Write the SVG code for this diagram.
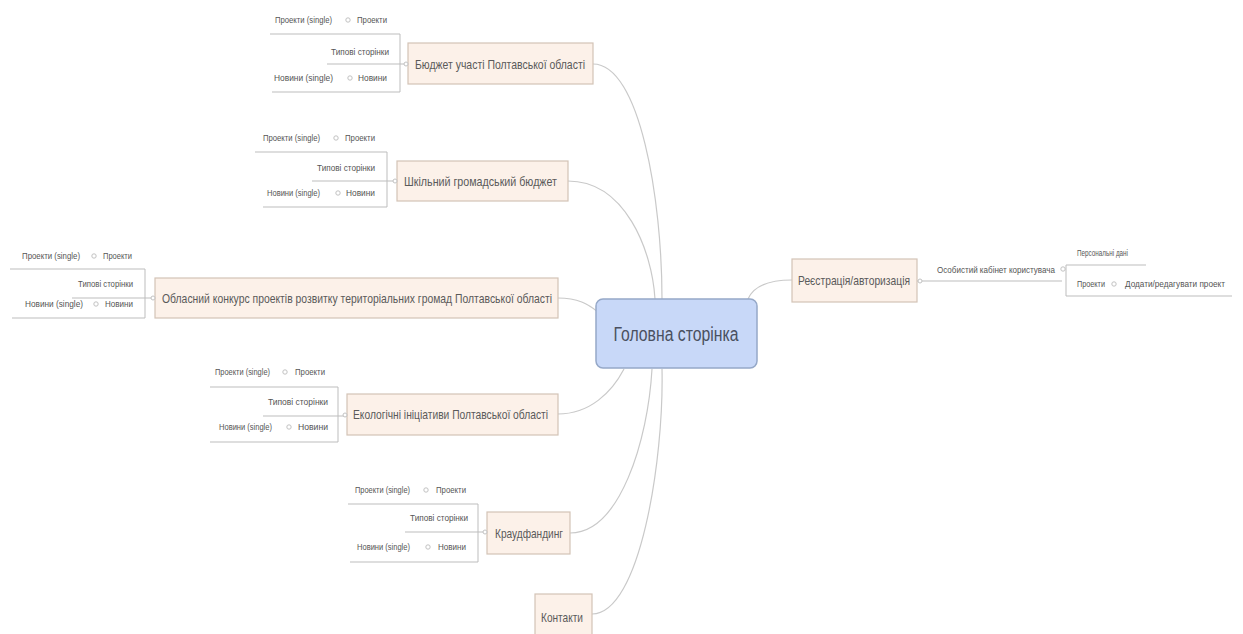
<svg xmlns="http://www.w3.org/2000/svg" width="1243" height="634" viewBox="0 0 1243 634">
<style>
.bg{fill:#ffffff}
.box{fill:#fcf1e9;stroke:#d3c3b6;stroke-width:1.2}
.main{fill:#c8d8f8;stroke:#95a8c8;stroke-width:1.5}
.t{font-family:"Liberation Sans",Arial,sans-serif;font-size:13px;fill:#5a5a5a}
.tm{font-family:"Liberation Sans",Arial,sans-serif;font-size:20px;fill:#4a5060}
.s{font-family:"Liberation Sans",Arial,sans-serif;font-size:9px;fill:#555555}
.ln{fill:none;stroke:#c9c9c9;stroke-width:1.2}
.br{fill:none;stroke:#bdbdbd;stroke-width:1}
.dot{fill:#ffffff;stroke:#c2c2c2;stroke-width:1}
</style>
<rect class="bg" x="0" y="0" width="1243" height="634"/>
<g id="connectors">
<path class="ln" d="M593,64 C640,64 662,200 662,299"/>
<path class="ln" d="M568,181 C625,181 652,250 655,299"/>
<path class="ln" d="M558,298 C578,298 588,304 598,312"/>
<path class="ln" d="M558,414 C590,414 612,392 624,369"/>
<path class="ln" d="M570,533 C620,533 648,440 652,369"/>
<path class="ln" d="M592,614 C640,614 664,460 662,369"/>
<path class="ln" d="M748,299 C754,285 770,280 792,280"/>
<path class="br" d="M917,281 L1062,281"/>
</g>
<g id="cluster1">
<path class="br" d="M270,34 H400 V92 H272 M327,64 H408"/>
<text class="s" x="275" y="23" textLength="57" lengthAdjust="spacingAndGlyphs">Проекти (single)</text>
<circle class="dot" cx="348" cy="20" r="2.2"/>
<text class="s" x="357" y="23" textLength="30" lengthAdjust="spacingAndGlyphs">Проекти</text>
<text class="s" x="331" y="55" textLength="58" lengthAdjust="spacingAndGlyphs">Типові сторінки</text>
<text class="s" x="274" y="81" textLength="59" lengthAdjust="spacingAndGlyphs">Новини (single)</text>
<circle class="dot" cx="350" cy="78" r="2.2"/>
<text class="s" x="358" y="81" textLength="29" lengthAdjust="spacingAndGlyphs">Новини</text>
</g>
<g id="node-budget">
<rect class="box" x="408" y="43" width="185" height="41"/>
<circle class="dot" cx="406" cy="64" r="2"/>
<text class="t" x="415" y="69" textLength="170" lengthAdjust="spacingAndGlyphs">Бюджет участі Полтавської області</text>
</g>
<g id="cluster2">
<path class="br" d="M255,152 H387 V207 H263 M312,181 H397"/>
<text class="s" x="263" y="141" textLength="57" lengthAdjust="spacingAndGlyphs">Проекти (single)</text>
<circle class="dot" cx="336" cy="138" r="2.2"/>
<text class="s" x="345" y="141" textLength="30" lengthAdjust="spacingAndGlyphs">Проекти</text>
<text class="s" x="317" y="171" textLength="58" lengthAdjust="spacingAndGlyphs">Типові сторінки</text>
<text class="s" x="267" y="196" textLength="53" lengthAdjust="spacingAndGlyphs">Новини (single)</text>
<circle class="dot" cx="338" cy="193" r="2.2"/>
<text class="s" x="346" y="196" textLength="29" lengthAdjust="spacingAndGlyphs">Новини</text>
</g>
<g id="node-school">
<rect class="box" x="397" y="161" width="171" height="40"/>
<circle class="dot" cx="395" cy="181" r="2"/>
<text class="t" x="404" y="186" textLength="153" lengthAdjust="spacingAndGlyphs">Шкільний громадський бюджет</text>
</g>
<g id="cluster3">
<path class="br" d="M10,269 H145 V318 H12 M72,298 H155"/>
<text class="s" x="22" y="259" textLength="58" lengthAdjust="spacingAndGlyphs">Проекти (single)</text>
<circle class="dot" cx="94" cy="256" r="2.2"/>
<text class="s" x="103" y="259" textLength="29" lengthAdjust="spacingAndGlyphs">Проекти</text>
<text class="s" x="78" y="287" textLength="55" lengthAdjust="spacingAndGlyphs">Типові сторінки</text>
<text class="s" x="25" y="307" textLength="58" lengthAdjust="spacingAndGlyphs">Новини (single)</text>
<circle class="dot" cx="96" cy="304" r="2.2"/>
<text class="s" x="105" y="307" textLength="28" lengthAdjust="spacingAndGlyphs">Новини</text>
</g>
<g id="node-contest">
<rect class="box" x="155" y="278" width="403" height="40"/>
<circle class="dot" cx="153" cy="298" r="2"/>
<text class="t" x="162" y="303" textLength="390" lengthAdjust="spacingAndGlyphs">Обласний конкурс проектів розвитку територіальних громад Полтавської області</text>
</g>
<g id="cluster4">
<path class="br" d="M210,387 H338 V442 H210 M263,416 H347"/>
<text class="s" x="215" y="375" textLength="55" lengthAdjust="spacingAndGlyphs">Проекти (single)</text>
<circle class="dot" cx="285" cy="372" r="2.2"/>
<text class="s" x="295" y="375" textLength="30" lengthAdjust="spacingAndGlyphs">Проекти</text>
<text class="s" x="268" y="405" textLength="60" lengthAdjust="spacingAndGlyphs">Типові сторінки</text>
<text class="s" x="219" y="430" textLength="53" lengthAdjust="spacingAndGlyphs">Новини (single)</text>
<circle class="dot" cx="289" cy="427" r="2.2"/>
<text class="s" x="298" y="430" textLength="30" lengthAdjust="spacingAndGlyphs">Новини</text>
</g>
<g id="node-eco">
<rect class="box" x="347" y="394" width="211" height="41"/>
<circle class="dot" cx="345" cy="415" r="2"/>
<text class="t" x="353" y="419" textLength="195" lengthAdjust="spacingAndGlyphs">Екологічні ініціативи Полтавської області</text>
</g>
<g id="cluster5">
<path class="br" d="M348,504 H478 V562 H350 M405,532 H487"/>
<text class="s" x="355" y="493" textLength="55" lengthAdjust="spacingAndGlyphs">Проекти (single)</text>
<circle class="dot" cx="426" cy="490" r="2.2"/>
<text class="s" x="436" y="493" textLength="30" lengthAdjust="spacingAndGlyphs">Проекти</text>
<text class="s" x="410" y="521" textLength="58" lengthAdjust="spacingAndGlyphs">Типові сторінки</text>
<text class="s" x="357" y="550" textLength="53" lengthAdjust="spacingAndGlyphs">Новини (single)</text>
<circle class="dot" cx="428" cy="547" r="2.2"/>
<text class="s" x="438" y="550" textLength="28" lengthAdjust="spacingAndGlyphs">Новини</text>
</g>
<g id="node-crowd">
<rect class="box" x="487" y="512" width="83" height="42"/>
<circle class="dot" cx="485" cy="532" r="2"/>
<text class="t" x="495" y="538" textLength="68" lengthAdjust="spacingAndGlyphs">Краудфандинг</text>
</g>
<g id="node-contacts">
<rect class="box" x="535" y="594" width="57" height="46"/>
<text class="t" x="541" y="622" textLength="42" lengthAdjust="spacingAndGlyphs">Контакти</text>
</g>
<g id="node-main">
<rect class="main" x="596" y="299" width="161" height="69" rx="7"/>
<text class="tm" x="676" y="341" text-anchor="middle" textLength="125" lengthAdjust="spacingAndGlyphs">Головна сторінка</text>
</g>
<g id="node-register">
<rect class="box" x="792" y="259" width="125" height="43"/>
<circle class="dot" cx="920" cy="281" r="2"/>
<text class="t" x="798" y="285" textLength="112" lengthAdjust="spacingAndGlyphs">Реєстрація/авторизація</text>
</g>
<g id="node-cabinet">
<text class="s" x="937" y="273" textLength="118" lengthAdjust="spacingAndGlyphs">Особистий кабінет користувача</text>
<circle class="dot" cx="1063" cy="269" r="2.2"/>
</g>
<g id="cluster-cabinet">
<path class="br" d="M1066,265 H1146 M1066,265 V296 H1232"/>
<text class="s" x="1077" y="256" textLength="51" lengthAdjust="spacingAndGlyphs">Персональні дані</text>
<text class="s" x="1077" y="287" textLength="28" lengthAdjust="spacingAndGlyphs">Проекти</text>
<circle class="dot" cx="1114" cy="284" r="2.2"/>
<text class="s" x="1125" y="287" textLength="100" lengthAdjust="spacingAndGlyphs">Додати/редагувати проект</text>
</g>
</svg>
